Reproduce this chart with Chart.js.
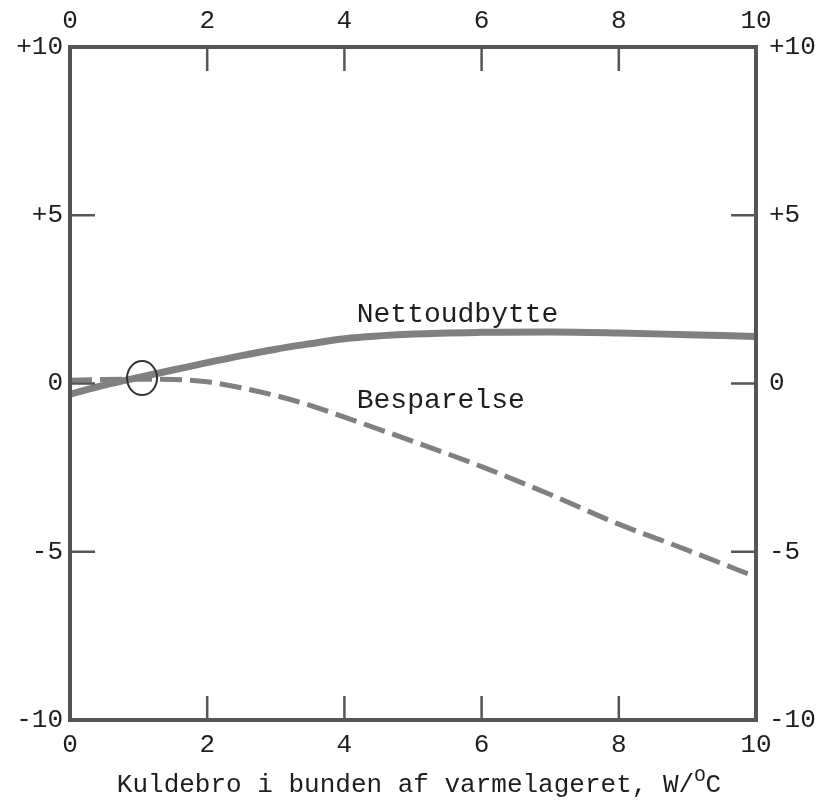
<!DOCTYPE html>
<html><head><meta charset="utf-8">
<script src="https://cdn.jsdelivr.net/npm/chart.js@4.4.1/dist/chart.umd.min.js"></script>
<style>html,body{margin:0;padding:0;background:#fff}#wrap{width:830px;height:801px}</style>
</head><body><div id="wrap"><canvas id="c" width="830" height="801"></canvas></div>
<script>
// Kuldebro (W/°C) against yearly result for the two series
const xs     = [0, 0.5, 1, 1.5, 2, 2.5, 3, 3.5, 4, 5, 6, 7, 8, 9, 10];
const netto  = [-0.32, -0.05, 0.18, 0.4, 0.62, 0.83, 1.02, 1.18, 1.33, 1.47, 1.52, 1.53, 1.5, 1.45, 1.4];
const bespar = [0.1, 0.12, 0.13, 0.12, 0.05, -0.13, -0.36, -0.65, -1.0, -1.72, -2.47, -3.3, -4.18, -4.95, -5.75];
const xTicks = [0, 2, 4, 6, 8, 10];
const yTicks = [-10, -5, 0, 5, 10];
const yLabel = v => v > 0 ? '+' + v : (v < 0 ? '-' + Math.abs(v) : '0');

const ink = '#555';
const txt = '#1e1e1e';
const font = {family: 'Liberation Mono', size: 26};

const mkPts = ys => xs.map((x, i) => ({x, y: ys[i]}));
const fixTicks = list => s => { s.ticks = list.map(v => ({value: v})); };

// frame, inward ticks, series names, circled crossing and the axis title
const decor = {
  id: 'decor',
  afterDatasetsDraw(chart) {
    const {ctx, chartArea: a, scales: {x, y}} = chart;
    ctx.save();
    ctx.strokeStyle = ink;
    ctx.lineWidth = 4;
    ctx.strokeRect(a.left, a.top, a.right - a.left, a.bottom - a.top);
    ctx.lineWidth = 2.5;
    xTicks.slice(1, -1).forEach(t => {
      const px = x.getPixelForValue(t);
      ctx.beginPath(); ctx.moveTo(px, a.top); ctx.lineTo(px, a.top + 24); ctx.stroke();
      ctx.beginPath(); ctx.moveTo(px, a.bottom); ctx.lineTo(px, a.bottom - 24); ctx.stroke();
    });
    yTicks.slice(1, -1).forEach(t => {
      const py = y.getPixelForValue(t);
      ctx.beginPath(); ctx.moveTo(a.left, py); ctx.lineTo(a.left + 25, py); ctx.stroke();
      ctx.beginPath(); ctx.moveTo(a.right, py); ctx.lineTo(a.right - 25, py); ctx.stroke();
    });
    ctx.fillStyle = txt;
    ctx.font = '28px "Liberation Mono"';
    ctx.textAlign = 'left'; ctx.textBaseline = 'alphabetic';
    ctx.fillText('Nettoudbytte', x.getPixelForValue(4.18), y.getPixelForValue(1.82));
    ctx.fillText('Besparelse', x.getPixelForValue(4.18), y.getPixelForValue(-0.73));
    // circle round the crossing point
    ctx.strokeStyle = '#333';
    ctx.lineWidth = 2;
    ctx.beginPath();
    ctx.ellipse(x.getPixelForValue(1.05), y.getPixelForValue(0.16), 15, 17, 0, 0, Math.PI * 2);
    ctx.stroke();
    // axis title with superscript O
    const main = 'Kuldebro i bunden af varmelageret, W/';
    ctx.font = '26px "Liberation Mono"';
    const w1 = ctx.measureText(main).width;
    ctx.font = '19px "Liberation Mono"';
    const w2 = ctx.measureText('O').width;
    ctx.font = '26px "Liberation Mono"';
    const w3 = ctx.measureText('C').width;
    const cx = (a.left + a.right) / 2 + 6;
    let sx = cx - (w1 + w2 + w3) / 2;
    const base = 792;
    ctx.fillText(main, sx, base);
    ctx.font = '19px "Liberation Mono"';
    ctx.fillText('O', sx + w1, base - 11);
    ctx.font = '26px "Liberation Mono"';
    ctx.fillText('C', sx + w1 + w2, base);
    ctx.restore();
  }
};

const tickOpts = {color: txt, font};

new Chart(document.getElementById('c'), {
  type: 'scatter',
  data: {datasets: [
    {label: 'Nettoudbytte', data: mkPts(netto), showLine: true, borderColor: '#808080',
     borderWidth: 7, pointRadius: 0, cubicInterpolationMode: 'monotone', borderCapStyle: 'round'},
    {label: 'Besparelse', data: mkPts(bespar), showLine: true, borderColor: '#808080',
     borderWidth: 5, borderDash: [22, 8], pointRadius: 0, cubicInterpolationMode: 'monotone'}
  ]},
  options: {
    responsive: false, animation: false,
    layout: {padding: 0},
    plugins: {legend: {display: false}, tooltip: {enabled: false}},
    scales: {
      x: {type: 'linear', position: 'bottom', min: 0, max: 10, border: {display: false},
          grid: {display: false, drawTicks: false},
          afterBuildTicks: fixTicks(xTicks), afterFit: s => { s.height = 81; },
          ticks: {...tickOpts, padding: 10, maxRotation: 0}},
      xTop: {type: 'linear', position: 'top', min: 0, max: 10, border: {display: false},
          grid: {display: false, drawTicks: false},
          afterBuildTicks: fixTicks(xTicks), afterFit: s => { s.height = 47; },
          ticks: {...tickOpts, padding: 10, maxRotation: 0}},
      y: {type: 'linear', position: 'left', min: -10, max: 10, border: {display: false},
          grid: {display: false, drawTicks: false},
          afterBuildTicks: fixTicks(yTicks), afterFit: s => { s.width = 70; },
          ticks: {...tickOpts, padding: 7, callback: v => yLabel(v)}},
      yRight: {type: 'linear', position: 'right', min: -10, max: 10, border: {display: false},
          grid: {display: false, drawTicks: false},
          afterBuildTicks: fixTicks(yTicks), afterFit: s => { s.width = 74; },
          ticks: {...tickOpts, padding: 13, callback: v => yLabel(v)}}
    }
  },
  plugins: [decor]
});
</script></body></html>
